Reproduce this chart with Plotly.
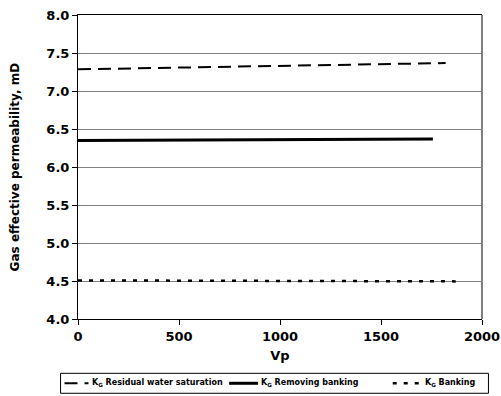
import plotly.graph_objects as go

# Data
vp_residual = [0, 250, 500, 750, 1000, 1250, 1500, 1820]
kg_residual = [7.285, 7.296, 7.306, 7.318, 7.330, 7.342, 7.354, 7.368]

vp_removing = [0, 250, 500, 750, 1000, 1250, 1500, 1757]
kg_removing = [6.350, 6.352, 6.355, 6.358, 6.360, 6.363, 6.366, 6.370]

vp_banking = [0, 250, 500, 750, 1000, 1250, 1500, 1870]
kg_banking = [4.508, 4.507, 4.505, 4.503, 4.501, 4.499, 4.497, 4.495]

series_names = ["K<sub>G</sub> Residual water saturation",
                "K<sub>G</sub> Removing banking",
                "K<sub>G</sub> Banking"]

x_ticks = [0, 500, 1000, 1500, 2000]
y_ticks = [4.0, 4.5, 5.0, 5.5, 6.0, 6.5, 7.0, 7.5, 8.0]

x_title = "Vp"
y_title = "Gas effective permeability, mD"

FONT = "DejaVu Sans"
styles = [dict(color="black", width=2, dash="13px,7px"),
          dict(color="black", width=3),
          dict(color="black", width=2.5, dash="4px,7px")]

fig = go.Figure()
for xs, ys, nm, st in zip([vp_residual, vp_removing, vp_banking],
                          [kg_residual, kg_removing, kg_banking], series_names, styles):
    fig.add_trace(go.Scatter(x=xs, y=ys, mode="lines", name=nm, line=st, showlegend=False))

# Legend drawn as a boxed row below the axis (paper coordinates)
leg_y = -0.2115
leg_samples = [(-0.0333, 0.0259), (0.3741, 0.4457), (0.779, 0.848)]
leg_text_x = [0.0309, 0.4481, 0.853]

shapes = [dict(type="line", xref="paper", yref="paper", x0=1, x1=1, y0=0, y1=1,
               line=dict(color="#808080", width=2)),
          dict(type="rect", xref="paper", yref="paper", x0=-0.0432, x1=1.016,
               y0=-0.2443, y1=-0.1787, line=dict(color="black", width=1),
               fillcolor="white", layer="below")]
annotations = [dict(text=y_title, textangle=-90, xref="paper", yref="paper",
                    x=-0.155, y=0.5, xanchor="center", yanchor="middle", showarrow=False,
                    font=dict(family=FONT, size=12, weight="bold", color="black"))]
for (sx0, sx1), tx, nm, st in zip(leg_samples, leg_text_x, series_names, styles):
    shapes.append(dict(type="line", xref="paper", yref="paper", x0=sx0, x1=sx1,
                       y0=leg_y, y1=leg_y, line=st))
    annotations.append(dict(text=nm, xref="paper", yref="paper", x=tx, y=leg_y,
                            xanchor="left", yanchor="middle", showarrow=False,
                            font=dict(family=FONT, size=8, weight="bold", color="black")))

fig.update_layout(
    width=501, height=396,
    margin=dict(l=77.5, r=18.5, t=14.5, b=76.5, autoexpand=False),
    paper_bgcolor="white", plot_bgcolor="white",
    font=dict(family=FONT, color="black", size=13, weight="bold"),
    showlegend=False,
    xaxis=dict(range=[0, 2000], tickvals=x_ticks, ticktext=[str(v) for v in x_ticks],
               showgrid=False, zeroline=False, showline=True, linecolor="black", linewidth=1,
               mirror=True, ticks="outside", ticklen=5, tickcolor="black", automargin=False,
               tickfont=dict(family=FONT, size=13, weight="bold"),
               title=dict(text=x_title, font=dict(family=FONT, size=13, weight="bold"), standoff=8)),
    yaxis=dict(range=[4.0, 8.0], tickvals=y_ticks, ticktext=[f"{v:.1f}" for v in y_ticks],
               showgrid=True, gridcolor="#808080", gridwidth=1, zeroline=False,
               showline=True, linecolor="black", linewidth=1, automargin=False,
               ticks="outside", ticklen=5, tickcolor="black",
               tickfont=dict(family=FONT, size=13, weight="bold")),
    annotations=annotations,
    shapes=shapes,
)

fig.write_html("out.html", config={"displayModeBar": False},
               post_script="document.body.style.margin='0';")
